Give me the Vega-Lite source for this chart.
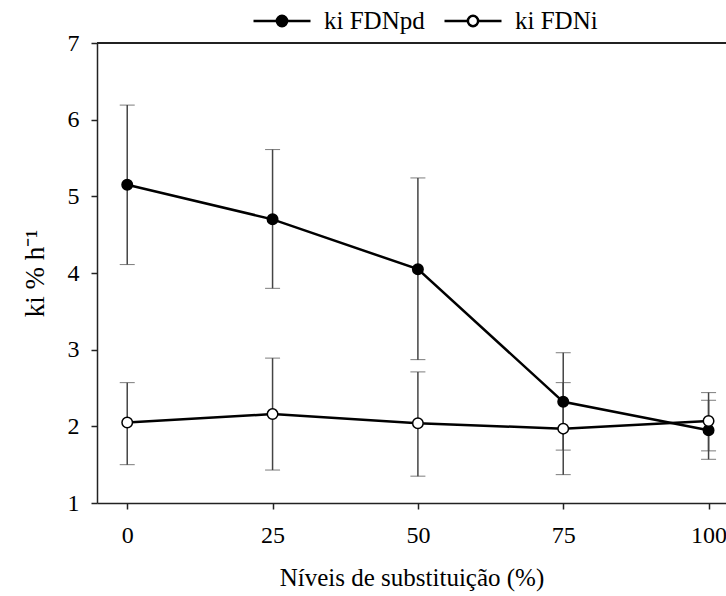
{
  "$schema": "https://vega.github.io/schema/vega-lite/v6.json",
  "autosize": "none",
  "padding": {"left": 97, "top": 43, "right": 0, "bottom": 93},
  "width": 629,
  "height": 460,
  "background": "white",
  "config": {
    "view": {"stroke": null},
    "font": "Times New Roman, Liberation Serif, serif",
    "legend": {"labelFont": "Times New Roman, Liberation Serif, serif", "labelFontSize": 24, "labelColor": "black"},
    "axis": {
      "labelFont": "Times New Roman, Liberation Serif, serif",
      "titleFont": "Times New Roman, Liberation Serif, serif",
      "labelColor": "black",
      "titleColor": "black",
      "domainColor": "#222",
      "tickColor": "#222",
      "domainWidth": 1.5,
      "tickWidth": 1.5,
      "tickSize": 6,
      "grid": false,
      "labelFontSize": 24,
      "titleFontSize": 25,
      "titleFontWeight": "normal"
    }
  },
  "data": {
    "values": [
      {"nivel": 0, "ki": 5.15, "lo": 4.11, "hi": 6.19, "serie": "ki FDNpd"},
      {"nivel": 25, "ki": 4.70, "lo": 3.80, "hi": 5.61, "serie": "ki FDNpd"},
      {"nivel": 50, "ki": 4.05, "lo": 2.87, "hi": 5.24, "serie": "ki FDNpd"},
      {"nivel": 75, "ki": 2.32, "lo": 1.69, "hi": 2.96, "serie": "ki FDNpd"},
      {"nivel": 100, "ki": 1.95, "lo": 1.57, "hi": 2.34, "serie": "ki FDNpd"},
      {"nivel": 0, "ki": 2.05, "lo": 1.50, "hi": 2.57, "serie": "ki FDNi"},
      {"nivel": 25, "ki": 2.16, "lo": 1.43, "hi": 2.89, "serie": "ki FDNi"},
      {"nivel": 50, "ki": 2.04, "lo": 1.35, "hi": 2.71, "serie": "ki FDNi"},
      {"nivel": 75, "ki": 1.97, "lo": 1.37, "hi": 2.57, "serie": "ki FDNi"},
      {"nivel": 100, "ki": 2.07, "lo": 1.68, "hi": 2.44, "serie": "ki FDNi"}
    ]
  },
  "encoding": {
    "x": {
      "field": "nivel", "type": "quantitative",
      "scale": {"domain": [-5.2, 103], "nice": false, "zero": false},
      "axis": {"values": [0, 25, 50, 75, 100], "format": "d", "title": "Níveis de substituição (%)", "labelPadding": 14, "titlePadding": 18}
    }
  },
  "layer": [
    {
      "mark": {"type": "rule", "color": "#222", "strokeWidth": 1.5},
      "encoding": {"y": {"datum": 7, "type": "quantitative", "scale": {"domain": [1, 7], "nice": false, "zero": false}}, "x": null}
    },
    {
      "mark": {"type": "errorbar", "orient": "vertical", "ticks": {"size": 15, "color": "#444", "strokeWidth": 1.5}, "rule": {"color": "#444", "strokeWidth": 1.5}},
      "encoding": {
        "y": {"field": "lo", "type": "quantitative", "scale": {"domain": [1, 7], "nice": false, "zero": false}, "title": "ki % h⁻¹"},
        "y2": {"field": "hi"},
        "detail": {"field": "serie"}
      }
    },
    {
      "mark": {"type": "line", "color": "black", "strokeWidth": 2.5},
      "encoding": {
        "y": {"field": "ki", "type": "quantitative", "scale": {"domain": [1, 7], "nice": false, "zero": false}, "title": "ki % h⁻¹"},
        "detail": {"field": "serie"}
      }
    },
    {
      "mark": {"type": "point", "filled": false, "shape": "circle", "size": 110, "stroke": "black", "strokeWidth": 1.5, "opacity": 1},
      "encoding": {
        "y": {
          "field": "ki", "type": "quantitative",
          "scale": {"domain": [1, 7], "nice": false, "zero": false},
          "title": "ki % h⁻¹",
          "axis": {"values": [1, 2, 3, 4, 5, 6, 7], "format": "d", "title": "ki % h⁻¹", "titleFontSize": 27, "labelPadding": 12, "titlePadding": 18}
        },
        "fill": {
          "field": "serie", "type": "nominal",
          "scale": {"domain": ["ki FDNpd", "ki FDNi"], "range": ["black", "white"]},
          "legend": {
            "title": null,
            "orient": "none",
            "direction": "horizontal",
            "legendX": 155,
            "legendY": -52,
            "symbolType": "M-1,0H-0.18M0.18,0H1M0.18,0A0.18,0.18 0 1,1 -0.18,0A0.18,0.18 0 1,1 0.18,0Z",
            "symbolSize": 3249,
            "symbolStrokeColor": "black",
            "symbolStrokeWidth": 2.5,
            "symbolOpacity": 1,
            "labelFont": "Times New Roman, Liberation Serif, serif",
            "labelFontSize": 25,
            "labelColor": "black",
            "labelOffset": 12,
            "columnPadding": 14
          }
        }
      }
    }
  ]
}
